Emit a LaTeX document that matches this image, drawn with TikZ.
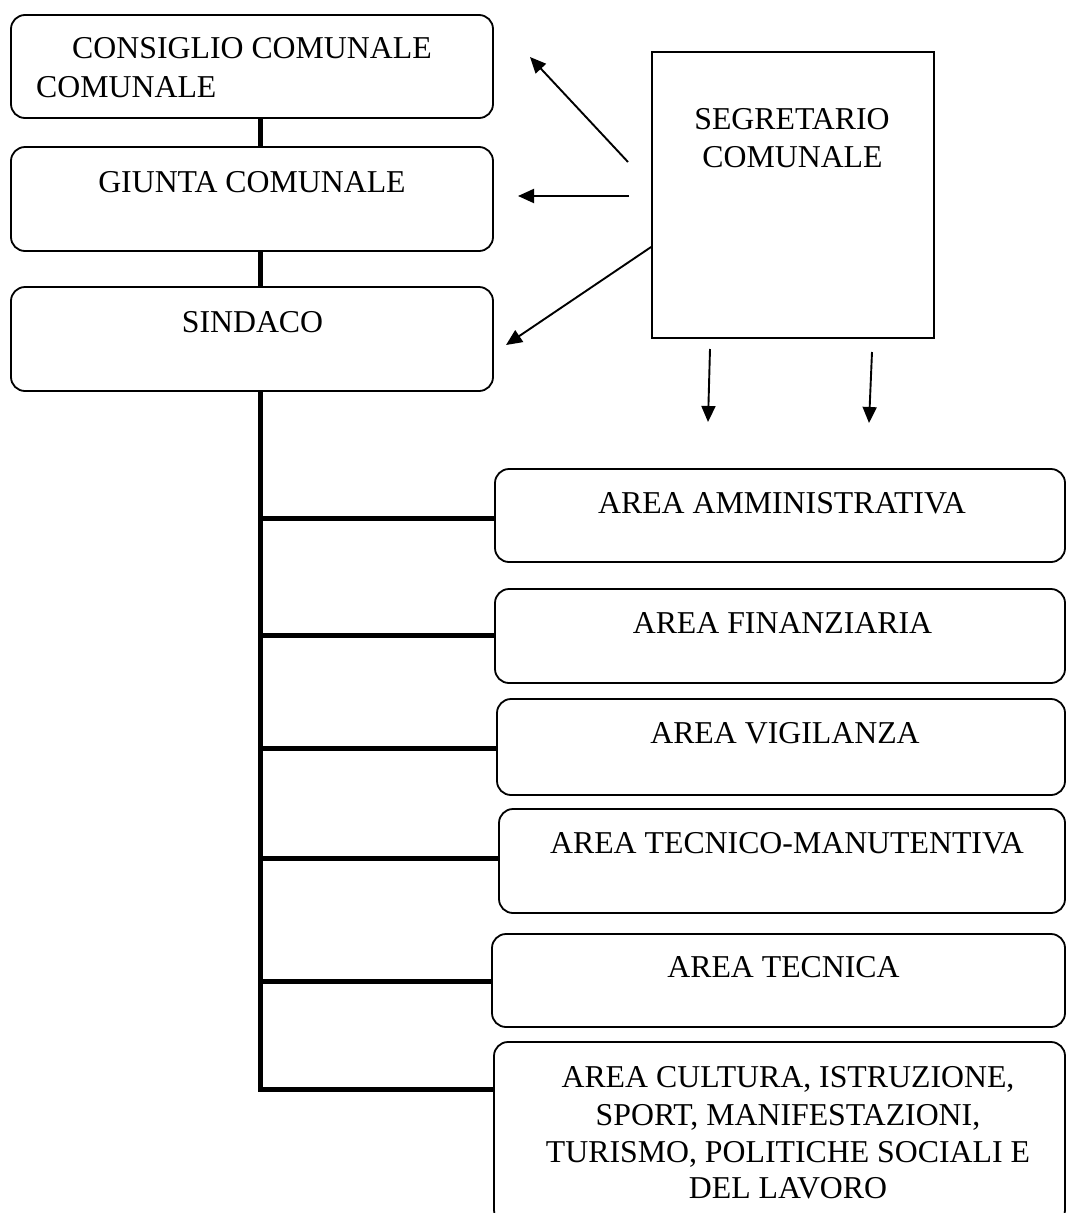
\documentclass[tikz,border=0pt]{standalone}
\usepackage{fontspec}
\setmainfont{Liberation Serif}
\usetikzlibrary{arrows.meta}
\begin{document}
\begin{tikzpicture}[x=1pt,y=-1pt,
  rbox/.style={draw, line width=1.8pt, rounded corners=14pt, inner sep=0pt, minimum width=#1},
  rbox/.default=482pt,
  sbox/.style={draw, line width=1.8pt, inner sep=0pt},
  lbl/.style={anchor=base, inner sep=0pt, font=\fontsize{31.8}{37.5}\selectfont},
  link/.style={line width=5pt},
  arr/.style={line width=1.9pt, -{Triangle[length=16pt,width=14pt]}}]
\useasboundingbox (0,0) rectangle (1067,1213);

% left column boxes
\node[rbox, minimum height=103pt] (cc) at (252,66.5) {};
\node[rbox, minimum height=104pt] (gc) at (252,199) {};
\node[rbox, minimum height=104pt] (sd) at (252,339) {};
\node[lbl] (cct1) at (252,58) {CONSIGLIO COMUNALE};
\node[lbl, anchor=base west] (cct2) at (36,97) {COMUNALE};
\node[lbl] (gct) at (252,192) {GIUNTA COMUNALE};
\node[lbl] (sdt) at (252.5,332) {SINDACO};

% segretario
\node[sbox, minimum width=282pt, minimum height=286pt] (seg) at (793,195) {};
\node[lbl] (segt1) at (792,129) {SEGRETARIO};
\node[lbl] (segt2) at (792.5,167) {COMUNALE};

% areas
\node[rbox=570pt, minimum height=93pt] (a1) at (780,515.5) {};
\node[rbox=570pt, minimum height=94pt] (a2) at (780,636) {};
\node[rbox=568pt, minimum height=96pt] (a3) at (781,747) {};
\node[rbox=566pt, minimum height=104pt] (a4) at (782,861) {};
\node[rbox=573pt, minimum height=93pt] (a5) at (778.5,980.5) {};
\node[rbox=571pt, minimum height=182pt] (a6) at (779.5,1133) {};
\node[lbl] (a1t) at (782,513) {AREA AMMINISTRATIVA};
\node[lbl] (a2t) at (782.5,633) {AREA FINANZIARIA};
\node[lbl] (a3t) at (785,743) {AREA VIGILANZA};
\node[lbl] (a4t) at (787,853) {AREA TECNICO-MANUTENTIVA};
\node[lbl] (a5t) at (783.5,977) {AREA TECNICA};
\node[lbl] (a6t1) at (788,1087) {AREA CULTURA, ISTRUZIONE,};
\node[lbl] (a6t2) at (788,1125) {SPORT, MANIFESTAZIONI,};
\node[lbl] (a6t3) at (788,1162) {TURISMO, POLITICHE SOCIALI E};
\node[lbl] (a6t4) at (788,1198) {DEL LAVORO};

% vertical links between left boxes
\coordinate (vx) at (260,0);
\draw[link] (cc.south -| vx) -- (gc.north -| vx);
\draw[link] (gc.south -| vx) -- (sd.north -| vx);

% spine and branches
\coordinate (b1) at (260,518);
\coordinate (b2) at (260,635);
\coordinate (b3) at (260,748);
\coordinate (b4) at (260,858);
\coordinate (b5) at (260,981);
\coordinate (b6) at (260,1089);
\draw[link] (sd.south -| vx) -- (b6) -- (b6 -| a6.west);
\draw[link] (b1) -- (b1 -| a1.west);
\draw[link] (b2) -- (b2 -| a2.west);
\draw[link] (b3) -- (b3 -| a3.west);
\draw[link] (b4) -- (b4 -| a4.west);
\draw[link] (b5) -- (b5 -| a5.west);

% arrows from segretario
\coordinate (t1) at (628,162);
\coordinate (h1) at (530,57);
\coordinate (t2) at (629,196);
\coordinate (h2) at (518,196);
\coordinate (t3) at (seg.west |- 0,247);
\coordinate (h3) at (506,345);
\coordinate (t4) at (710,349);
\coordinate (h4) at (708,422);
\coordinate (t5) at (872,352);
\coordinate (h5) at (869,423);
\draw[arr] (t1) -- (h1);
\draw[arr] (t2) -- (h2);
\draw[arr] (t3) -- (h3);
\draw[arr] (t4) -- (h4);
\draw[arr] (t5) -- (h5);
\end{tikzpicture}
\end{document}
